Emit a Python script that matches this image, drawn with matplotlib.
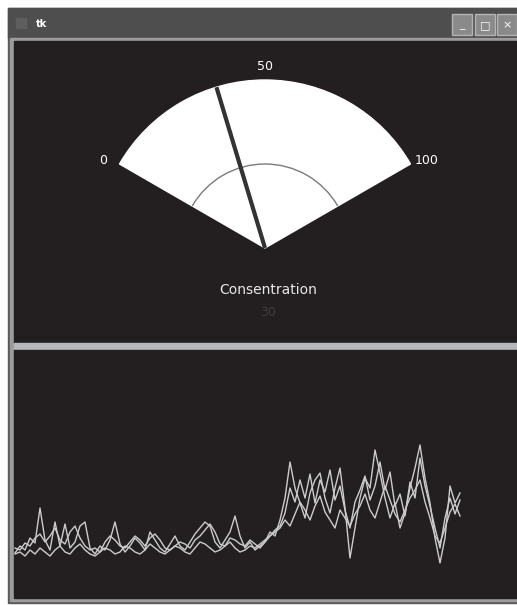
import numpy as np
import matplotlib
matplotlib.use('Agg')
import matplotlib.pyplot as plt
from matplotlib.patches import Rectangle, Wedge, Arc

# 仪表数据
gauge_min = 0
gauge_max = 100
gauge_ticks = [0, 50, 100]
needle_value = 36
value_text = '30'
gauge_label = 'Consentration'

# 下方曲线数据 (高度)
series_a = [45, 52, 48, 60, 55, 90, 58, 48, 76, 52,
            74, 50, 56, 72, 76, 50, 44, 52, 48, 58,
            76, 54, 46, 52, 60, 55, 48, 66, 58, 50,
            46, 54, 62, 52, 48, 56, 64, 70, 76, 72,
            56, 50, 58, 66, 82, 62, 50, 56, 48, 52,
            56, 66, 62, 78, 100, 136, 110, 95, 80, 105,
            118, 125, 100, 85, 110, 130, 90, 40, 70, 100,
            120, 110, 148, 125, 100, 80, 95, 70, 85, 110,
            130, 153, 120, 95, 60, 35, 60, 112, 95, 105]
series_b = [50, 48, 55, 52, 60, 64, 56, 62, 70, 58,
            54, 66, 72, 60, 52, 48, 50, 46, 56, 62,
            58, 52, 50, 56, 62, 58, 52, 60, 64, 58,
            50, 48, 52, 56, 54, 50, 58, 62, 68, 74,
            66, 54, 52, 60, 58, 54, 52, 58, 54, 50,
            56, 62, 68, 72, 85, 110, 96, 118, 100, 124,
            95, 118, 106, 128, 98, 112, 88, 70, 96, 108,
            122, 98, 112, 136, 108, 126, 92, 104, 82, 116,
            100, 140, 112, 92, 70, 50, 80, 100, 84, 98]
series_c = [44, 46, 42, 48, 44, 50, 46, 42, 48, 52,
            46, 44, 50, 54, 48, 44, 42, 46, 50, 48,
            44, 46, 52, 50, 46, 44, 48, 54, 50, 46,
            44, 48, 52, 50, 46, 44, 50, 56, 54, 50,
            46, 48, 52, 56, 50, 46, 48, 52, 50, 54,
            58, 62, 66, 70, 78, 72, 84, 96, 88, 78,
            92, 102, 86, 78, 70, 88, 80, 72, 84, 92,
            104, 88, 80, 96, 112, 98, 84, 76, 88, 100,
            108, 118, 96, 80, 62, 55, 70, 86, 94, 82]

W, H = 517, 605
bg = '#231f20'

fig = plt.figure(figsize=(W / 100, H / 100), dpi=100)
fig.patch.set_facecolor('white')

# 窗口外框 (像素坐标)
frame = fig.add_axes([0, 0, 1, 1])
frame.set_xlim(0, W)
frame.set_ylim(H, 0)
frame.axis('off')
frame.add_patch(Rectangle((8, 8), W - 8, 595, color='#5a5a5a'))
frame.add_patch(Rectangle((8, 8), W - 8, 30, color='#4e4e4e'))
frame.add_patch(Rectangle((10, 38), W - 10, 563, color='#9c9c9c'))
frame.add_patch(Rectangle((14, 41), W - 14, 302, color=bg))
frame.add_patch(Rectangle((14, 343), W - 14, 6, color='#b4b8bb'))
frame.add_patch(Rectangle((14, 350), W - 14, 248, color=bg))
frame.text(36, 24, 'tk', color='white', fontsize=7, fontweight='bold', va='center')
frame.add_patch(Rectangle((16, 18), 10, 10, color='#5e5e5e'))
for bx, glyph in zip([452, 475, 497], ['_', '□', '×']):
    frame.add_patch(Rectangle((bx, 14), 20, 21, facecolor='#8a8a8a', edgecolor='#b5b5b5', lw=1))
    frame.text(bx + 10, 25, glyph, color='white', fontsize=8, ha='center', va='center')

# 仪表
cx, cy = 265, 248
r = 168
gx = fig.add_axes([14 / W, 1 - 342 / H, (W - 14) / W, 301 / H])
gx.set_xlim(14 - cx, W - cx)
gx.set_ylim(cy - 342, cy - 41)
gx.axis('off')

def val2ang(v):
    return 150 - 120 * (v - gauge_min) / (gauge_max - gauge_min)

gx.add_patch(Wedge((0, 0), r, 30, 150, color='white'))
gx.add_patch(Arc((0, 0), r, r, theta1=30, theta2=150, color='#7a7a7a', lw=1))
a = np.radians(val2ang(needle_value))
gx.plot([0, r * np.cos(a)], [0, r * np.sin(a)], color='#333333', lw=3, solid_capstyle='butt')
for t in gauge_ticks:
    ta = np.radians(val2ang(t))
    gx.text(187 * np.cos(ta), 187 * np.sin(ta) - 6, str(t), color='white',
            fontsize=9, ha='center', va='center')
gx.text(3, -42, gauge_label, color='#e8e8e8', fontsize=10, ha='center', va='center')
gx.text(3, -64, value_text, color='#3c3c3c', fontsize=9, ha='center', va='center')

# 曲线
lx = fig.add_axes([14 / W, 1 - 598 / H, (W - 14) / W, 248 / H])
lx.set_facecolor(bg)
lx.set_xlim(-0.2, -0.2 + (W - 14) / 5)
lx.set_ylim(0, 248)
lx.axis('off')
for s in [series_c, series_b, series_a]:
    lx.plot(np.arange(len(s)), s, color='#cccccc', lw=1.0)

fig.savefig('out.png', dpi=100, facecolor=fig.get_facecolor())
